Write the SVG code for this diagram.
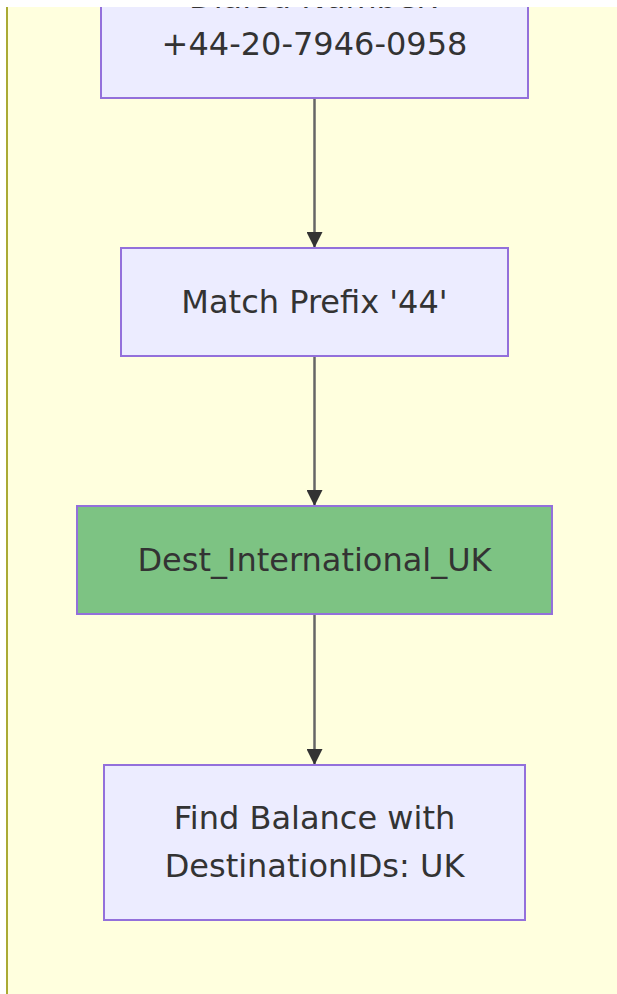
<svg xmlns="http://www.w3.org/2000/svg" width="617" height="994" viewBox="0 0 617 994">
<style>
.node rect{fill:#ECECFF;stroke:#9370DB;stroke-width:2}
.node.green rect{fill:#7DC383}
.node text{font-family:"DejaVu Sans",sans-serif;font-size:32px;fill:#333;text-anchor:middle;dominant-baseline:central}
.edge{stroke:#666;stroke-width:2.5;fill:none}
</style>
<defs>
<marker id="arrow" markerUnits="userSpaceOnUse" markerWidth="16" markerHeight="16" refX="16" refY="8" orient="auto">
<path d="M0,0 L16,8 L0,16 z" fill="#333"/>
</marker>
</defs>
<rect x="0" y="0" width="617" height="994" fill="#ffffff"/>
<rect id="cluster" x="7" y="-100" width="700" height="1200" fill="#FFFFDE" stroke="#AAAA33" stroke-width="2"/>
<g id="connectors">
<line class="edge" x1="314.5" y1="98" x2="314.5" y2="248" marker-end="url(#arrow)"/>
<line class="edge" x1="314.5" y1="356" x2="314.5" y2="506" marker-end="url(#arrow)"/>
<line class="edge" x1="314.5" y1="614" x2="314.5" y2="765" marker-end="url(#arrow)"/>
</g>
<g id="dialed" class="node">
<rect x="101" y="-58" width="427" height="156"/>
<text x="314.5" y="-3">Dialed Number:</text>
<text x="314.5" y="44">+44-20-7946-0958</text>
</g>
<g id="prefix" class="node">
<rect x="121" y="248" width="387" height="108"/>
<text x="314.5" y="302">Match Prefix '44'</text>
</g>
<g id="dest" class="node green">
<rect x="77" y="506" width="475" height="108"/>
<text x="314.5" y="560">Dest_International_UK</text>
</g>
<g id="balance" class="node">
<rect x="104" y="765" width="421" height="155"/>
<text x="314.5" y="818">Find Balance with</text>
<text x="314.5" y="866">DestinationIDs: UK</text>
</g>
<rect x="0" y="0" width="617" height="7" fill="#ffffff"/>
</svg>
